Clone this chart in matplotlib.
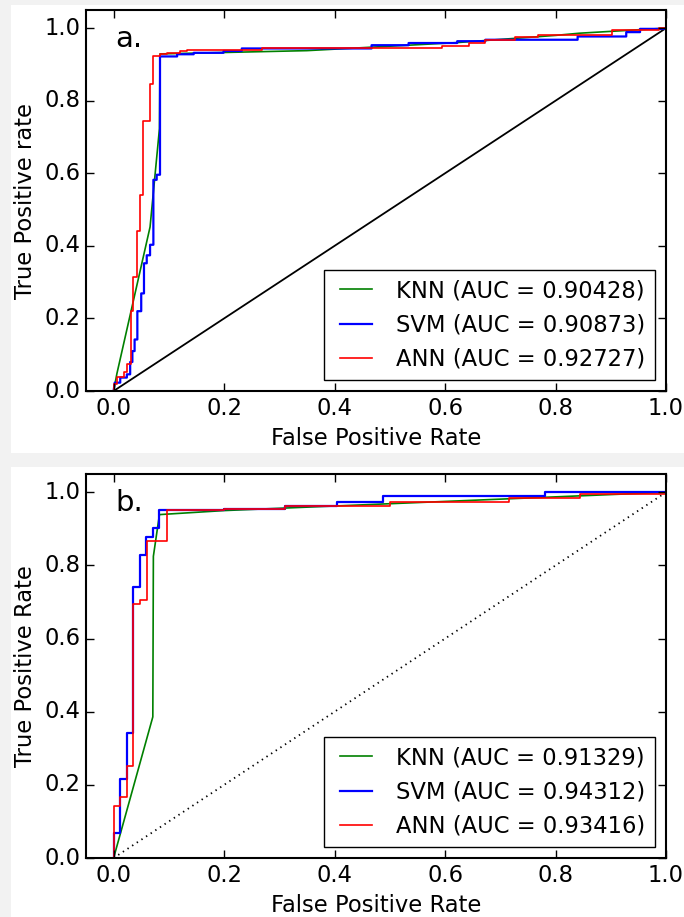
import matplotlib
matplotlib.use("Agg")
import matplotlib.pyplot as plt
from matplotlib.patches import Rectangle

# ---- panel a: ROC corner points ----
knn_a_fpr = [0, 0.006, 0.066, 0.083, 0.084, 0.35, 0.62, 0.80, 0.843, 1.0]
knn_a_tpr = [0, 0.048, 0.452, 0.723, 0.929, 0.938, 0.960, 0.980, 0.986, 1.0]

svm_a_fpr = [0, 0.002, 0.012, 0.012, 0.024, 0.024, 0.030, 0.030, 0.034, 0.034,
             0.038, 0.038, 0.043, 0.043, 0.050, 0.050, 0.055, 0.055, 0.060, 0.060,
             0.066, 0.066, 0.072, 0.072, 0.078, 0.078, 0.084, 0.084, 0.115, 0.115,
             0.145, 0.145, 0.199, 0.199, 0.232, 0.232, 0.467, 0.467, 0.534, 0.534,
             0.622, 0.622, 0.673, 0.673, 0.840, 0.840, 0.928, 0.928, 0.953, 0.953,
             1.0, 1.0]
svm_a_tpr = [0, 0.023, 0.023, 0.037, 0.037, 0.046, 0.046, 0.080, 0.080, 0.110,
             0.110, 0.142, 0.142, 0.220, 0.220, 0.269, 0.269, 0.352, 0.352, 0.374,
             0.374, 0.403, 0.403, 0.582, 0.582, 0.596, 0.596, 0.922, 0.922, 0.928,
             0.928, 0.932, 0.932, 0.937, 0.937, 0.944, 0.944, 0.953, 0.953, 0.959,
             0.959, 0.964, 0.964, 0.968, 0.968, 0.977, 0.977, 0.989, 0.989, 0.998,
             0.998, 1.0]

ann_a_fpr = [0, 0, 0.006, 0.006, 0.018, 0.018, 0.024, 0.024, 0.031, 0.031,
             0.036, 0.036, 0.042, 0.042, 0.048, 0.048, 0.054, 0.054, 0.065, 0.065,
             0.071, 0.071, 0.084, 0.084, 0.096, 0.096, 0.120, 0.120, 0.132, 0.132,
             0.268, 0.268, 0.595, 0.595, 0.643, 0.643, 0.673, 0.673, 0.727, 0.727,
             0.769, 0.769, 0.903, 0.903, 0.988, 0.988, 1.0]
ann_a_tpr = [0, 0.020, 0.020, 0.039, 0.039, 0.052, 0.052, 0.075, 0.075, 0.220,
             0.220, 0.314, 0.314, 0.441, 0.441, 0.541, 0.541, 0.744, 0.744, 0.845,
             0.845, 0.923, 0.923, 0.929, 0.929, 0.931, 0.931, 0.936, 0.936, 0.941,
             0.941, 0.944, 0.944, 0.952, 0.952, 0.959, 0.959, 0.966, 0.966, 0.975,
             0.975, 0.982, 0.982, 0.995, 0.995, 1.0, 1.0]

# ---- panel b ----
knn_b_fpr = [0, 0.071, 0.072, 0.083, 0.2, 1.0]
knn_b_tpr = [0, 0.386, 0.825, 0.939, 0.950, 1.0]

svm_b_fpr = [0, 0, 0.012, 0.012, 0.024, 0.024, 0.036, 0.036, 0.048, 0.048,
             0.059, 0.059, 0.072, 0.072, 0.083, 0.083, 0.20, 0.20, 0.31, 0.31,
             0.404, 0.404, 0.488, 0.488, 0.781, 0.781, 1.0]
svm_b_tpr = [0, 0.068, 0.068, 0.216, 0.216, 0.341, 0.341, 0.742, 0.742, 0.829,
             0.829, 0.877, 0.877, 0.902, 0.902, 0.951, 0.951, 0.955, 0.955, 0.9636,
             0.9636, 0.974, 0.974, 0.989, 0.989, 1.0, 1.0]

ann_b_fpr = [0, 0, 0.012, 0.012, 0.024, 0.024, 0.036, 0.036, 0.047, 0.047,
             0.060, 0.060, 0.096, 0.096, 0.20, 0.20, 0.31, 0.31, 0.50, 0.50,
             0.716, 0.716, 0.845, 0.845, 1.0, 1.0]
ann_b_tpr = [0, 0.142, 0.142, 0.167, 0.167, 0.252, 0.252, 0.694, 0.694, 0.706,
             0.706, 0.866, 0.866, 0.951, 0.951, 0.955, 0.955, 0.9636, 0.9636, 0.974,
             0.974, 0.985, 0.985, 0.996, 0.996, 1.0]

auc_a = {"KNN": 0.90428, "SVM": 0.90873, "ANN": 0.92727}
auc_b = {"KNN": 0.91329, "SVM": 0.94312, "ANN": 0.93416}

plt.style.use("classic")
plt.rcParams["font.family"] = "DejaVu Sans"
FS = 16.25

fig = plt.figure(figsize=(6.84, 9.17), dpi=100, facecolor="#f2f2f2")
# white screenshot panels behind each plot
fig.patches.append(Rectangle((0.016, 0.506), 0.984, 0.4885, transform=fig.transFigure,
                             facecolor="white", edgecolor="none", zorder=-5))
fig.patches.append(Rectangle((0.016, 0.0), 0.984, 0.4907, transform=fig.transFigure,
                             facecolor="white", edgecolor="none", zorder=-5))

ax_a = fig.add_axes([0.1257, 0.5736, 0.848, 0.4155])
ax_b = fig.add_axes([0.1257, 0.0643, 0.848, 0.4188])

panels = [
    (ax_a, "a.", "True Positive rate", "k-",
     [(knn_a_fpr, knn_a_tpr), (svm_a_fpr, svm_a_tpr), (ann_a_fpr, ann_a_tpr)], auc_a),
    (ax_b, "b.", "True Positive Rate", "k:",
     [(knn_b_fpr, knn_b_tpr), (svm_b_fpr, svm_b_tpr), (ann_b_fpr, ann_b_tpr)], auc_b),
]
colors = {"KNN": "green", "SVM": "blue", "ANN": "red"}
widths = {"KNN": 1.2, "SVM": 1.6, "ANN": 1.2}

for ax, tag, ylab, diag, curves, aucs in panels:
    ax.plot([0, 1], [0, 1], diag, lw=1.3)
    for name, (x, y) in zip(["KNN", "SVM", "ANN"], curves):
        ax.plot(x, y, color=colors[name], lw=widths[name],
                label=f"{name} (AUC = {aucs[name]:.5f})")
    ax.set_xlim(-0.05, 1.0)
    ax.set_ylim(0.0, 1.05)
    ax.set_xticks([0.0, 0.2, 0.4, 0.6, 0.8, 1.0])
    ax.set_yticks([0.0, 0.2, 0.4, 0.6, 0.8, 1.0])
    ax.tick_params(labelsize=FS, direction="in", length=6, width=1)
    ax.set_xlabel("False Positive Rate", fontsize=FS)
    ax.set_ylabel(ylab, fontsize=FS)
    ax.text(0.003, 0.948, tag, fontsize=21)
    leg = ax.legend(loc="lower right", fontsize=FS, numpoints=2,
                    handlelength=2.0, fancybox=False)
    leg.get_frame().set_linewidth(1.0)
    for sp in ax.spines.values():
        sp.set_linewidth(1.5)

fig.savefig("out.png", dpi=100, facecolor=fig.get_facecolor())
